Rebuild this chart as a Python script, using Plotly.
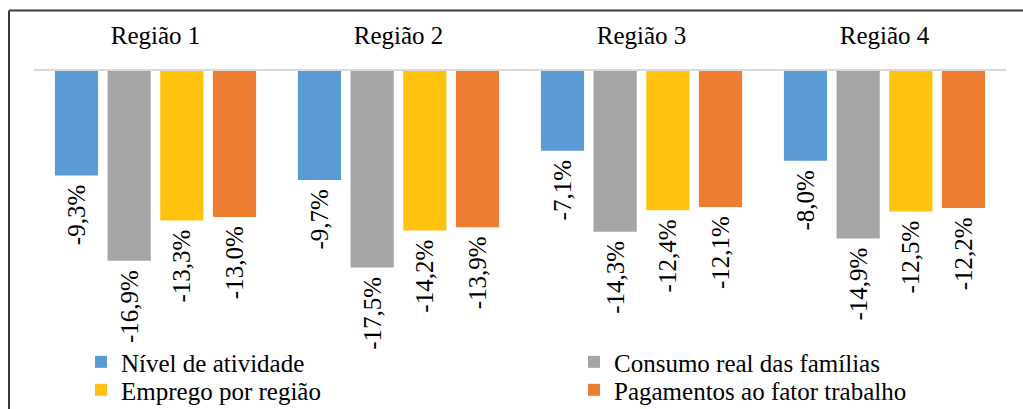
import plotly.graph_objects as go

# Regions and percentage changes for each indicator
regioes = ["Região 1", "Região 2", "Região 3", "Região 4"]
nivel_atividade = [-9.3, -9.7, -7.1, -8.0]
consumo_familias = [-16.9, -17.5, -14.3, -14.9]
emprego_regiao = [-13.3, -14.2, -12.4, -12.5]
pagamentos_trabalho = [-13.0, -13.9, -12.1, -12.2]

series = [
    ("Nível de atividade", nivel_atividade, "#5B9BD5", "legend"),
    ("Consumo real das famílias", consumo_familias, "#A5A5A5", "legend2"),
    ("Emprego por região", emprego_regiao, "#FFC20E", "legend3"),
    ("Pagamentos ao fator trabalho", pagamentos_trabalho, "#ED7D31", "legend4"),
]

FONT = "Liberation Serif"
FS = 25

# plot area geometry in pixels
TOP, LEFT, RIGHT = 70.5, 34, 1006
H = 409 - TOP
W = RIGHT - LEFT
PX_PER_PCT = 11.25

fig = go.Figure()
for nome, valores, cor, leg in series:
    fig.add_trace(go.Bar(
        x=regioes,
        y=valores,
        name=nome,
        showlegend=True,
        marker=dict(color=cor, line=dict(width=0)),
        texttemplate="%{y:.1f}%\u00a0",
        textposition="outside",
        textangle=-90,
        constraintext="none",
        cliponaxis=False,
        textfont=dict(family=FONT, size=FS, color="#000000"),
        legend=leg,
    ))


def legend_at(px_x, px_y):
    # one legend entry placed at a pixel position of the figure
    return dict(
        x=(px_x - LEFT) / W, y=(409 - px_y) / H,
        xanchor="left", yanchor="top",
        orientation="v",
        font=dict(family=FONT, size=FS, color="#000000"),
        bgcolor="rgba(0,0,0,0)",
    )


fig.update_layout(
    width=1023,
    height=409,
    showlegend=True,
    margin=dict(l=LEFT, r=1023 - RIGHT, t=TOP, b=0, autoexpand=False),
    paper_bgcolor="#FFFFFF",
    plot_bgcolor="#FFFFFF",
    separators=",.",
    barmode="group",
    bargap=0.133,
    bargroupgap=0.18,
    font=dict(family=FONT, size=FS, color="#000000"),
    xaxis=dict(
        side="top",
        showline=True,
        linecolor="#D9D9D9",
        linewidth=2,
        showgrid=False,
        ticks="",
        tickangle=0,
        ticklabelstandoff=15,
        tickfont=dict(family=FONT, size=FS, color="#000000"),
    ),
    yaxis=dict(range=[-H / PX_PER_PCT, 0], visible=False, showgrid=False, zeroline=False),
    legend=legend_at(81, 339),
    legend2=legend_at(574, 339),
    legend3=legend_at(81, 367),
    legend4=legend_at(574, 367),
    shapes=[
        # chart frame (top and left edges)
        dict(type="line", xref="paper", yref="paper",
             x0=(9 - LEFT) / W, x1=1.1, y0=1 + (TOP - 10) / H, y1=1 + (TOP - 10) / H,
             line=dict(color="#3A3A3A", width=2)),
        dict(type="line", xref="paper", yref="paper",
             x0=(9 - LEFT) / W, x1=(9 - LEFT) / W, y0=-0.1, y1=1 + (TOP - 10) / H,
             line=dict(color="#3A3A3A", width=2)),
    ],
)

fig.write_html("out.html")
